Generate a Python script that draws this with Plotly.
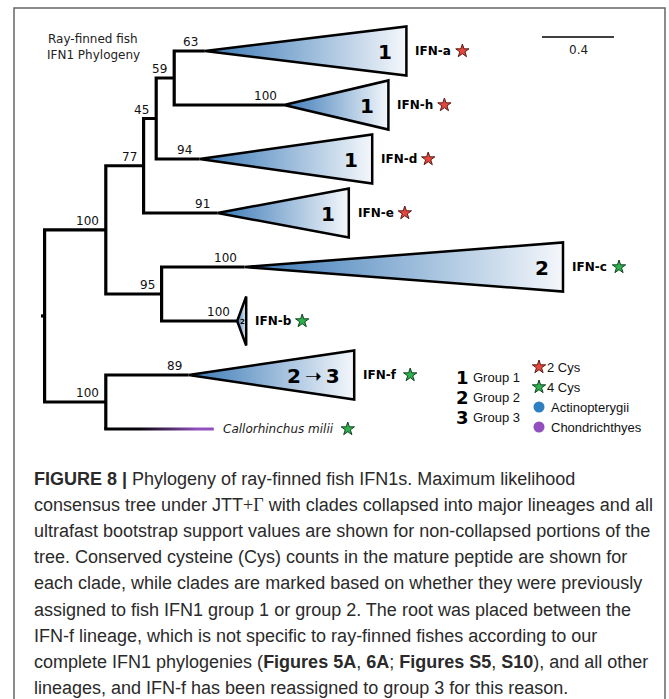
import plotly.graph_objects as go

# ---------------- data ----------------
node_names = ["root", "n_A", "n_B", "n_C", "n_D", "IFN-a", "IFN-h", "IFN-d", "IFN-e",
              "n_E", "IFN-c", "IFN-b", "n_F", "IFN-f", "Callorhinchus milii"]
node_parents = [None, "root", "n_A", "n_B", "n_C", "n_D", "n_D", "n_C", "n_B",
                "n_A", "n_E", "n_E", "root", "n_F", "n_F"]
branch_lengths = [0.02, 0.34, 0.21, 0.07, 0.10, 0.17, 0.61, 0.24, 0.41,
                  0.31, 0.46, 0.42, 0.34, 0.46, 0.60]
support_values = [None, 100, 77, 45, 59, 63, 100, 94, 91, 95, 100, 100, 100, 89, None]

clade_names = ["IFN-a", "IFN-h", "IFN-d", "IFN-e", "IFN-c", "IFN-b", "IFN-f"]
clade_depths = [1.12, 0.58, 0.96, 0.73, 1.77, 0.05, 0.92]
clade_groups = ["1", "1", "1", "1", "2", "2", "2\u2009\u279d\u20093"]
clade_cys = [2, 2, 2, 2, 4, 4, 4]
leaf_taxon = "Callorhinchus milii"
leaf_cys = 4

scale_bar_length = 0.4
title_lines = ["Ray-finned fish", "IFN1 Phylogeny"]
legend_group_digits = ["1", "2", "3"]
legend_group_labels = ["Group 1", "Group 2", "Group 3"]
legend_cys_counts = [2, 4]
legend_taxa = ["Actinopterygii", "Chondrichthyes"]

caption_lines = [
    "<b>FIGURE 8 |</b> Phylogeny of ray-finned fish IFN1s. Maximum likelihood",
    "consensus tree under JTT<span style=\"font-family:'Liberation Serif'\">+\u0393</span> with clades collapsed into major lineages and all",
    "ultrafast bootstrap support values are shown for non-collapsed portions of the",
    "tree. Conserved cysteine (Cys) counts in the mature peptide are shown for",
    "each clade, while clades are marked based on whether they were previously",
    "assigned to fish IFN1 group 1 or group 2. The root was placed between the",
    "IFN-f lineage, which is not specific to ray-finned fishes according to our",
    "complete IFN1 phylogenies (<b>Figures 5A</b>, <b>6A</b>; <b>Figures S5</b>, <b>S10</b>), and all other",
    "lineages, and IFN-f has been reassigned to group 3 for this reason.",
]

# ---------------- styles / layout constants ----------------
W, H = 669, 699
PX0, PXU = 41.0, 180.0      # pixel of x=0, pixels per substitution unit
PY0, PYU = 51.0, 54.0       # pixel of first tip, pixels per tip slot
TRI_HALF = 0.455
CYS_COLORS = {2: "#e8473d", 4: "#2fb04f"}
CYS_EDGES = {2: "#5a1b16", 4: "#0f4420"}
TAXON_COLORS = {"Actinopterygii": "#2f7fc1", "Chondrichthyes": "#9150be"}
BLUE_GRAD = [[0, "#3878b6"], [1, "#f4f7fb"]]
TREE_FONT = "DejaVu Sans"
SANS = "Liberation Sans"
STAR_SIZE = 10


def X(px):
    return (px - PX0) / PXU


def Y(py):
    return (py - PY0) / PYU


def dx(p):
    return p / PXU


def dy(p):
    return p / PYU


# ---------------- tree layout ----------------
parent_of = dict(zip(node_names, node_parents))
blen = dict(zip(node_names, branch_lengths))
support = dict(zip(node_names, support_values))
children = {n: [] for n in node_names}
for n, p in zip(node_names, node_parents):
    if p is not None:
        children[p].append(n)
root = [n for n in node_names if parent_of[n] is None][0]

xpos, ypos = {}, {}
tip_counter = [0]


def layout_node(n, x_parent):
    xpos[n] = x_parent + blen[n]
    if not children[n]:
        ypos[n] = tip_counter[0]
        tip_counter[0] += 1
    else:
        for c in children[n]:
            layout_node(c, xpos[n])
        ypos[n] = (ypos[children[n][0]] + ypos[children[n][-1]]) / 2.0


layout_node(root, 0.0)

fig = go.Figure()

# branches
bx, by = [], []
bx += [0.0, xpos[root], None]
by += [ypos[root], ypos[root], None]
for n in node_names:
    ch = children[n]
    if not ch:
        continue
    first, last = ch[0], ch[-1]
    if last == leaf_taxon:
        bx += [xpos[first], xpos[n], xpos[n], None]
        by += [ypos[first], ypos[first], ypos[last], None]
    else:
        bx += [xpos[first], xpos[n], xpos[n], xpos[last], None]
        by += [ypos[first], ypos[first], ypos[last], ypos[last], None]
fig.add_trace(go.Scatter(x=bx, y=by, mode="lines", line=dict(color="black", width=3.2),
                         hoverinfo="skip", showlegend=False))

# gradient branch to the single chondrichthyan leaf
lp = parent_of[leaf_taxon]
x0g, x1g = xpos[lp] - dx(1.6), xpos[leaf_taxon]
yl = ypos[leaf_taxon]
fig.add_trace(go.Scatter(
    x=[x0g, x1g, x1g, x0g, x0g], y=[yl - dy(1.6), yl - dy(1.6), yl + dy(1.6), yl + dy(1.6), yl - dy(1.6)],
    mode="lines", fill="toself", line=dict(width=0, color="rgba(0,0,0,0)"),
    fillgradient=dict(type="horizontal",
                      colorscale=[[0, "black"], [0.33, "#0a040d"], [0.85, TAXON_COLORS["Chondrichthyes"]],
                                  [1, TAXON_COLORS["Chondrichthyes"]]]),
    hoverinfo="skip", showlegend=False))

annotations = []

# collapsed clades
star_pts = {2: ([], []), 4: ([], [])}
for name, depth, grp, cys in zip(clade_names, clade_depths, clade_groups, clade_cys):
    xa, yc = xpos[name], ypos[name]
    xr = xa + depth
    fig.add_trace(go.Scatter(
        x=[xa, xr, xr, xa], y=[yc, yc - TRI_HALF, yc + TRI_HALF, yc],
        mode="lines", fill="toself", line=dict(color="black", width=2.5),
        fillgradient=dict(type="horizontal", colorscale=BLUE_GRAD),
        hoverinfo="skip", showlegend=False))
    if depth < 0.1:
        annotations.append(dict(x=xa + depth * 0.55, y=yc + dy(1), text="<b>%s</b>" % grp,
                                showarrow=False, xanchor="center", yanchor="middle",
                                font=dict(family=TREE_FONT, size=7, color="black")))
    else:
        annotations.append(dict(x=xr - dx(12), y=yc + dy(1), text="<b>%s</b>" % grp,
                                showarrow=False, xanchor="right", yanchor="middle",
                                font=dict(family=TREE_FONT, size=20, color="black")))
    annotations.append(dict(x=xr + dx(7), y=yc, text="<b>%s</b>" % name, showarrow=False,
                            xanchor="left", yanchor="middle",
                            font=dict(family=TREE_FONT, size=12, color="black")))
    star_pts[cys][0].append(xr + dx(56))
    star_pts[cys][1].append(yc)

# leaf label
annotations.append(dict(x=xpos[leaf_taxon] + dx(7), y=ypos[leaf_taxon], text="<i>%s</i>" % leaf_taxon,
                        showarrow=False, xanchor="left", yanchor="middle",
                        font=dict(family=TREE_FONT, size=12, color="#1a1a1a")))
star_pts[leaf_cys][0].append(xpos[leaf_taxon] + dx(134))
star_pts[leaf_cys][1].append(ypos[leaf_taxon])

for cys, (sx, sy) in star_pts.items():
    fig.add_trace(go.Scatter(x=sx, y=sy, mode="markers",
                             marker=dict(symbol="star", size=STAR_SIZE, color=CYS_COLORS[cys],
                                         line=dict(color=CYS_EDGES[cys], width=1)),
                             hoverinfo="skip", showlegend=False))

# support values
for n in node_names:
    s = support[n]
    if s is None:
        continue
    annotations.append(dict(x=xpos[n] - dx(5), y=ypos[n] - dy(9), text=str(s), showarrow=False,
                            xanchor="right", yanchor="middle",
                            font=dict(family=TREE_FONT, size=12, color="#111111")))

# title
for i, t in enumerate(title_lines):
    annotations.append(dict(x=X(93), y=Y(39 + 16 * i), text=t, showarrow=False,
                            xanchor="center", yanchor="middle",
                            font=dict(family=TREE_FONT, size=12, color="#222222")))

# scale bar
sb_x0 = X(542)
fig.add_trace(go.Scatter(x=[sb_x0, sb_x0 + scale_bar_length], y=[Y(37), Y(37)], mode="lines",
                         line=dict(color="black", width=1.3), hoverinfo="skip", showlegend=False))
annotations.append(dict(x=sb_x0 + scale_bar_length / 2, y=Y(50), text=str(scale_bar_length),
                        showarrow=False, xanchor="center", yanchor="middle",
                        font=dict(family=TREE_FONT, size=12, color="#222222")))

# legend: groups
for i, (d, lab) in enumerate(zip(legend_group_digits, legend_group_labels)):
    yy = Y(377 + 20 * i)
    annotations.append(dict(x=X(462), y=yy, text="<b>%s</b>" % d, showarrow=False,
                            xanchor="center", yanchor="middle",
                            font=dict(family=TREE_FONT, size=18, color="black")))
    annotations.append(dict(x=X(471), y=yy, text=lab, showarrow=False,
                            xanchor="left", yanchor="middle",
                            font=dict(family=SANS, size=13, color="#111111")))

# legend: cys stars
for i, c in enumerate(legend_cys_counts):
    yy = Y(367 + 20 * i)
    fig.add_trace(go.Scatter(x=[X(539)], y=[yy], mode="markers",
                             marker=dict(symbol="star", size=STAR_SIZE, color=CYS_COLORS[c],
                                         line=dict(color=CYS_EDGES[c], width=1)),
                             hoverinfo="skip", showlegend=False))
    annotations.append(dict(x=X(545), y=yy, text="%d Cys" % c, showarrow=False,
                            xanchor="left", yanchor="middle",
                            font=dict(family=SANS, size=13, color="#111111")))

# legend: taxa
for i, t in enumerate(legend_taxa):
    yy = Y(407 + 20 * i)
    fig.add_trace(go.Scatter(x=[X(539)], y=[yy], mode="markers",
                             marker=dict(symbol="circle", size=11, color=TAXON_COLORS[t]),
                             hoverinfo="skip", showlegend=False))
    annotations.append(dict(x=X(549), y=yy, text=t, showarrow=False,
                            xanchor="left", yanchor="middle",
                            font=dict(family=SANS, size=13, color="#111111")))

# caption
for i, line in enumerate(caption_lines):
    py = 479 + 26.1 * i
    annotations.append(dict(x=32 / W, y=1 - py / H, xref="paper", yref="paper", text=line,
                            showarrow=False, xanchor="left", yanchor="middle",
                            font=dict(family=SANS, size=18, color="#2a2a2a")))

# frame
fx0, fx1, fy0 = 14 / W, 665 / W, 1 - 8 / H
shapes = [dict(type="path", xref="paper", yref="paper",
               path="M %f,-0.05 L %f,%f L %f,%f L %f,-0.05" % (fx0, fx0, fy0, fx1, fy0, fx1),
               line=dict(color="#666666", width=1.5))]

fig.update_layout(
    width=W, height=H, margin=dict(l=0, r=0, t=0, b=0),
    paper_bgcolor="white", plot_bgcolor="white",
    xaxis=dict(range=[X(0), X(W)], visible=False, fixedrange=True),
    yaxis=dict(range=[Y(H), Y(0)], visible=False, fixedrange=True),
    annotations=annotations, shapes=shapes, showlegend=False,
    font=dict(family=SANS),
)

fig.write_html("out.html", config={"displayModeBar": False},
               post_script="document.body.style.margin='0px';document.body.style.overflow='hidden';")
